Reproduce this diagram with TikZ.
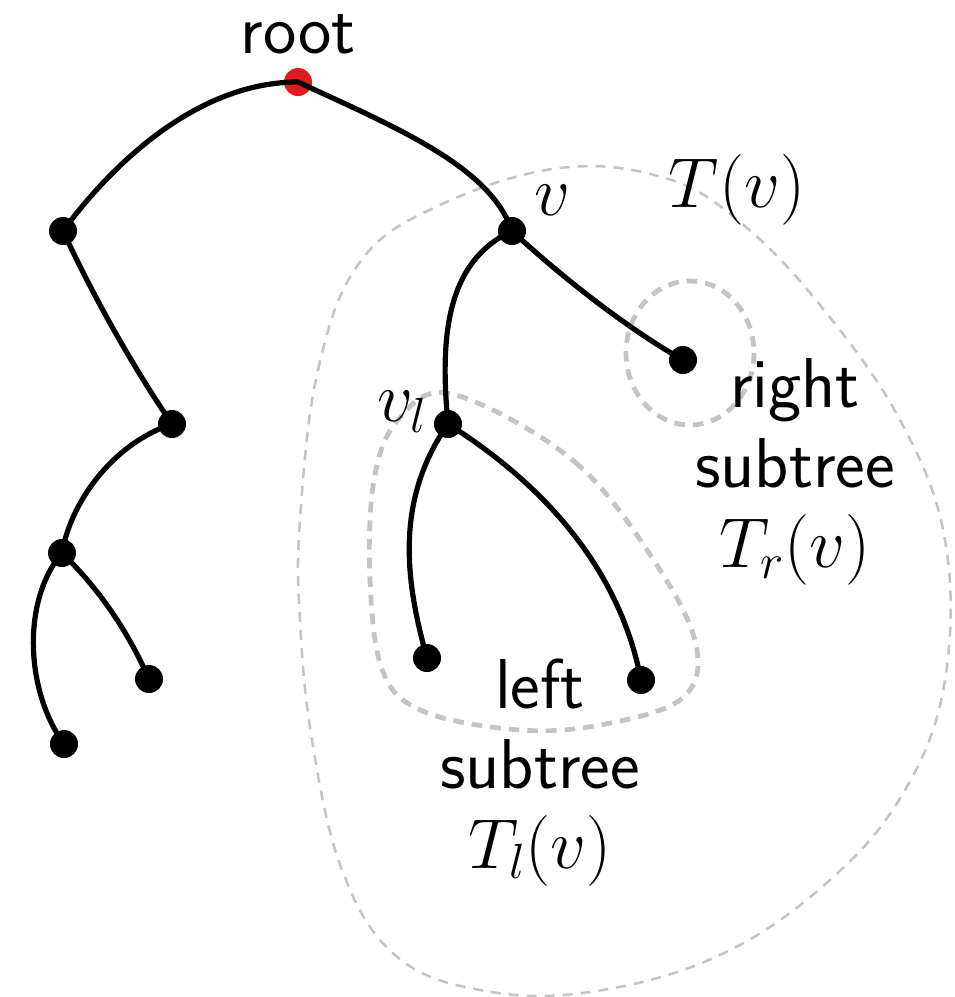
\RequirePackage{fix-cm}
\documentclass[tikz,border=0pt]{standalone}
\usepackage{fontspec}
\definecolor{rootred}{HTML}{E31A1C}
\definecolor{hullgray}{HTML}{C4C4C4}
\tikzset{
  dot/.style={circle,fill=black,inner sep=0pt,minimum size=21pt},
  rootdot/.style={dot,fill=rootred},
  edge/.style={line width=3.9pt,line cap=round},
  bighull/.style={draw=hullgray,line width=1.9pt,dash pattern=on 7.5pt off 6pt},
  smallhull/.style={draw=hullgray,line width=3.6pt,dash pattern=on 8pt off 6pt},
  lbl/.style={font=\fontsize{53}{60}\selectfont\sffamily,align=center,inner sep=0pt},
}
\begin{document}
\begin{tikzpicture}[x=0.75pt,y=-0.75pt]
\useasboundingbox (0,0) rectangle (955,997);
% hulls
\draw[bighull] plot[smooth cycle,tension=0.65] coordinates {
  (300,520) (318,370) (360,262) (440,205) (560,168) (665,178) (740,222)
  (820,305) (900,420) (945,540) (945,680) (905,790) (830,880) (720,955)
  (590,992) (480,990) (395,955) (342,870) (312,740) (300,620)};
\draw[smallhull] plot[smooth cycle,tension=0.6] coordinates {
  (452,394) (575,462) (660,570) (697,650) (680,700) (600,725) (520,730)
  (425,712) (383,672) (370,580) (374,480) (398,420)};
\draw[smallhull] (690,353) ellipse [x radius=64, y radius=72];
% nodes
\node[rootdot] (root) at (298,82) {};
\node[dot] (a) at (63,231) {};
\node[dot] (v) at (512,231) {};
\node[dot] (b) at (172,424) {};
\node[dot] (c) at (62,553) {};
\node[dot] (d) at (149,679) {};
\node[dot] (e) at (64,744) {};
\node[dot] (vr) at (683,360) {};
\node[dot] (vl) at (448,424) {};
\node[dot] (f) at (427,658) {};
\node[dot] (g) at (641,680) {};
% edges
\draw[edge] (root.center) .. controls (200,82) and (115,160) .. (a.center);
\draw[edge] (root.center) .. controls (390,125) and (490,165) .. (v.center);
\draw[edge] (a.center) .. controls (95,300) and (135,370) .. (b.center);
\draw[edge] (b.center) .. controls (110,445) and (70,505) .. (c.center);
\draw[edge] (c.center) .. controls (95,585) and (125,625) .. (d.center);
\draw[edge] (c.center) .. controls (22,600) and (25,690) .. (e.center);
\draw[edge] (v.center) .. controls (565,280) and (630,330) .. (vr.center);
\draw[edge] (v.center) .. controls (445,262) and (440,340) .. (vl.center);
\draw[edge] (vl.center) .. controls (395,500) and (405,580) .. (f.center);
\draw[edge] (vl.center) .. controls (545,485) and (620,570) .. (g.center);
% labels
\node[lbl,anchor=base] (rootlbl) at (298,53) {root};
\node[lbl] (vlbl) at (552,200) {$v$};
\node[lbl] (tvlbl) at (737,190) {$T(v)$};
\node[lbl] (vllbl) at (402,412) {$v_l$};
\node[lbl] (rlbl) at (795,472) {right\\subtree\\$T_r(v)$};
\node[lbl] (llbl) at (540,772) {left\\subtree\\$T_l(v)$};
\end{tikzpicture}
\end{document}
